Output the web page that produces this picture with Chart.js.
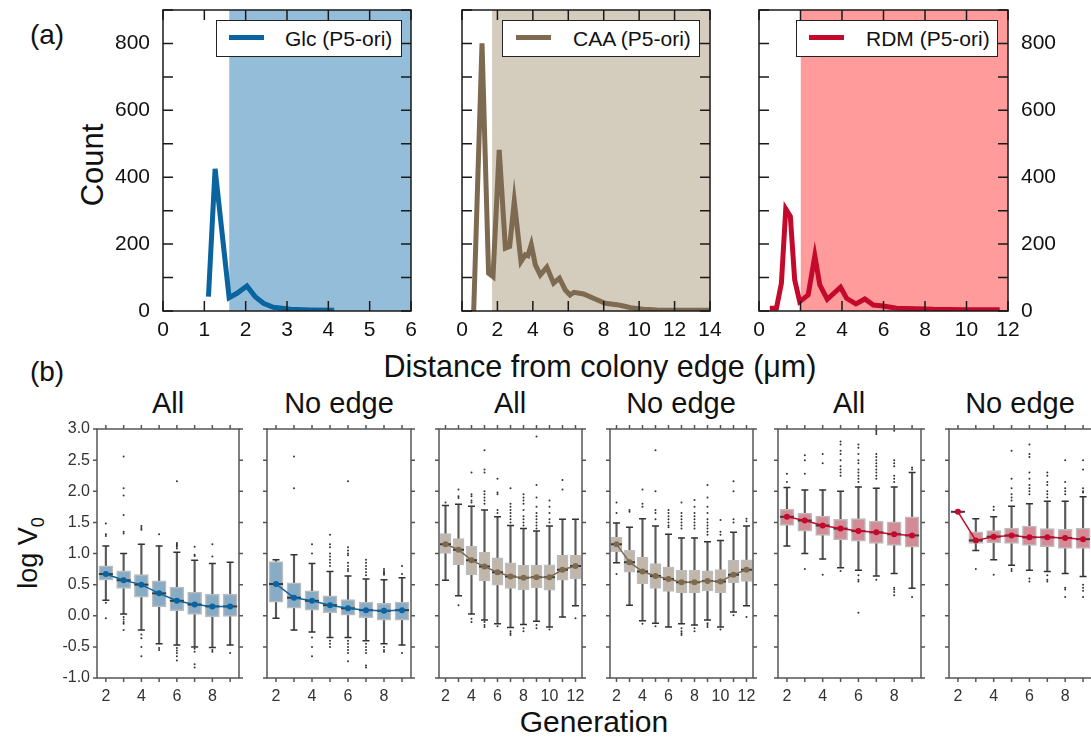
<!DOCTYPE html>
<html>
<head>
<meta charset="utf-8">
<script src="https://cdn.jsdelivr.net/npm/chart.js@4.4.0/dist/chart.umd.min.js"></script>
<style>
  body { margin: 0; background: #fff; width: 1091px; height: 742px; overflow: hidden; position: relative;
         font-family: "Liberation Sans", Arial, sans-serif; color: #111; }
  canvas { position: absolute; }
  .lbl { position: absolute; white-space: nowrap; line-height: 1; transform: translate(-50%, -50%); }
  .rot { transform: translate(-50%, -50%) rotate(-90deg); }
  .leg { position: absolute; top: 20px; height: 37px; background: #fff; border: 1.5px solid #222; box-sizing: border-box; }
  .leg span { position: absolute; top: 14px; width: 35px; height: 5px; }
  .leg b { position: absolute; top: 7px; font-weight: normal; font-size: 21px; line-height: 1; }
</style>
</head>
<body>

<div class="lbl" style="left:47px;top:35px;font-size:28px">(a)</div>
<div class="lbl rot" style="left:92px;top:165px;font-size:31px">Count</div>
<div class="lbl" style="left:600px;top:366px;font-size:30.5px">Distance from colony edge (μm)</div>
<div class="lbl" style="left:47px;top:372px;font-size:28px">(b)</div>
<div class="lbl rot" style="left:31px;top:553px;font-size:27px">log V<sub style="font-size:18px">0</sub></div>
<div class="lbl" style="left:594px;top:722px;font-size:30px">Generation</div>

<div class="lbl" style="left:168px;top:403px;font-size:29px">All</div>
<div class="lbl" style="left:339px;top:403px;font-size:29px">No edge</div>
<div class="lbl" style="left:510px;top:403px;font-size:29px">All</div>
<div class="lbl" style="left:681px;top:403px;font-size:29px">No edge</div>
<div class="lbl" style="left:849px;top:403px;font-size:29px">All</div>
<div class="lbl" style="left:1020px;top:403px;font-size:29px">No edge</div>

<canvas id="t1" width="320" height="345" style="left:100px;top:0"></canvas>
<canvas id="t2" width="290" height="345" style="left:440px;top:0"></canvas>
<canvas id="t3" width="350" height="345" style="left:740px;top:0"></canvas>

<div class="leg" style="left:216px;width:186px"><span style="left:12px;background:#0a64a0"></span><b style="left:68px">Glc (P5-ori)</b></div>
<div class="leg" style="left:502px;width:198px"><span style="left:13px;background:#7d6a50"></span><b style="left:70px">CAA (P5-ori)</b></div>
<div class="leg" style="left:796px;width:202px"><span style="left:12px;background:#c40a2c"></span><b style="left:69px">RDM (P5-ori)</b></div>

<canvas id="b1" width="209" height="295" style="left:40px;top:420px"></canvas>
<canvas id="b2" width="168" height="295" style="left:255px;top:420px"></canvas>
<canvas id="b3" width="167" height="295" style="left:427px;top:420px"></canvas>
<canvas id="b4" width="167" height="295" style="left:598px;top:420px"></canvas>
<canvas id="b5" width="167" height="295" style="left:766px;top:420px"></canvas>
<canvas id="b6" width="167" height="295" style="left:937px;top:420px"></canvas>

<script>
// (a) distance from colony edge, counts
const glcX = [1.10, 1.26, 1.60, 1.79, 2.03, 2.23, 2.43, 2.67, 3.08, 3.56, 4.14];
const glcY = [43, 425, 40, 53, 75, 43, 23, 11, 5, 3, 2];
const caaX = [0.66, 1.13, 1.50, 1.75, 2.10, 2.45, 2.69, 2.95, 3.33, 3.57, 3.72, 3.91, 4.14, 4.42, 4.79, 5.17, 5.50, 5.83, 6.10, 6.33, 6.86, 7.42, 8.08, 8.74, 9.12, 9.50, 10.24, 11.0, 12.5, 13.97];
const caaY = [0, 800, 113, 103, 482, 188, 193, 328, 148, 168, 165, 198, 138, 108, 131, 83, 98, 63, 48, 56, 51, 38, 23, 19, 15, 10, 5, 3, 2, 2];
const rdmX = [0.52, 0.84, 1.08, 1.29, 1.51, 1.72, 1.96, 2.37, 2.69, 2.93, 3.29, 3.93, 4.22, 4.67, 5.10, 5.51, 5.99, 6.63, 7.60, 8.40, 10.0, 11.6];
const rdmY = [8, 8, 83, 305, 283, 93, 28, 48, 165, 78, 35, 71, 38, 21, 36, 18, 15, 8, 7, 5, 4, 4];
const edgeCut = [1.6, 1.7, 2.0];   // start of shaded "no edge" region
const distMax = [6, 14, 12];
const distStep = [1, 2, 2];
const countTicks = [0, 200, 400, 600, 800];

// (b) log V0 per generation: [low whisker, q1, median, q3, high whisker]
const gensShort = ['2', '3', '4', '5', '6', '7', '8', '9'];
const gensLong = ['2', '3', '4', '5', '6', '7', '8', '9', '10', '11', '12'];

const glcAll = [[0.25, 0.57, 0.67, 0.80, 1.12], [0.03, 0.44, 0.57, 0.72, 1.00], [-0.23, 0.30, 0.50, 0.66, 1.15], [-0.45, 0.14, 0.36, 0.56, 1.12],
                [-0.47, 0.08, 0.24, 0.46, 1.02], [-0.50, 0.02, 0.18, 0.38, 0.89], [-0.51, -0.02, 0.15, 0.35, 0.84], [-0.47, -0.01, 0.15, 0.35, 0.86]];
const glcAllOut = [[1.48, 1.31, 1.28, 0.21, -0.04], [2.56, 2.05, 1.93, 1.62, 1.35, 1.32, -0.02, -0.06, -0.10, -0.13, -0.23],
                   [1.44, 1.41, 1.38, -0.30, -0.36, -0.50, -0.65], [1.31, -0.52, -0.55],
                   [2.16, 1.17, 1.15, 1.13, 1.11, 1.08, -0.52, -0.56, -0.60, -0.65, -0.72], [1.11, 0.98, 0.96, -0.53, -0.58, -0.78, -0.83],
                   [1.15, 0.95, -0.55, -0.58], [-0.60]];

const glcNoEdge = [[-0.04, 0.22, 0.51, 0.87, 0.90], [-0.23, 0.12, 0.29, 0.53, 0.98], [-0.26, 0.09, 0.24, 0.40, 0.84], [-0.35, 0.05, 0.17, 0.32, 0.71],
                   [-0.35, 0.01, 0.12, 0.26, 0.64], [-0.40, -0.03, 0.09, 0.22, 0.59], [-0.45, -0.07, 0.08, 0.20, 0.58], [-0.47, -0.07, 0.09, 0.22, 0.61]];
const glcNoEdgeOut = [[], [2.56, 2.05], [1.15, 1.00, -0.35, -0.50, -0.65], [1.30, 1.15, 1.10, 1.00, 0.95, 0.90, 0.85, 0.80, -0.40, -0.45, -0.50],
                      [2.16, 1.10, 1.05, 1.00, 0.97, 0.85, 0.80, 0.75, 0.72, -0.40, -0.45, -0.50, -0.55, -0.60, -0.73],
                      [0.90, 0.85, 0.80, 0.75, 0.70, 0.65, -0.45, -0.50, -0.55, -0.60, -0.80, -0.83],
                      [0.75, 0.72, 0.70, 0.68, 0.66, -0.50, -0.55, -0.58], [0.80, 0.67, -0.60]];

const caaAll = [[0.57, 1.00, 1.15, 1.32, 1.77], [0.32, 0.82, 1.06, 1.24, 1.79], [0.03, 0.66, 0.89, 1.12, 1.76], [-0.07, 0.56, 0.79, 1.02, 1.70],
                [-0.13, 0.49, 0.70, 0.93, 1.59], [-0.19, 0.44, 0.63, 0.85, 1.45], [-0.14, 0.42, 0.61, 0.81, 1.40], [-0.09, 0.45, 0.62, 0.81, 1.36],
                [-0.18, 0.41, 0.62, 0.82, 1.44], [-0.02, 0.57, 0.74, 0.97, 1.55], [0.16, 0.59, 0.80, 0.97, 1.55]];
const caaAllOut = [[1.82], [2.03, 1.92, 1.89, 0.17], [2.30, 1.95, 1.92, 1.85, 1.82, -0.05, -0.10],
                   [2.66, 2.35, 2.30, 2.00, 1.95, 1.90, 1.85, 1.80, -0.10, -0.15, -0.18], [2.20, 1.98, 1.95, 1.70, 1.65, -0.17],
                   [2.05, 1.80, 1.75, 1.70, 1.65, 1.60, 1.55, 1.50, -0.25, -0.28, -0.31],
                   [1.95, 1.90, 1.85, 1.80, 1.70, 1.60, 1.55, 1.50, 1.45, -0.20, -0.25],
                   [2.88, 2.10, 1.90, 1.75, 1.65, 1.60, 1.55, 1.50, 1.45, 1.40, -0.15, -0.20],
                   [1.85, 1.75, 1.65, 1.55, 1.50, -0.22], [2.18, 2.03], [-0.04]];

const caaNoEdge = [[0.85, 1.03, 1.15, 1.26, 1.49], [0.17, 0.70, 0.86, 1.05, 1.42], [-0.08, 0.51, 0.71, 0.94, 1.56], [-0.12, 0.44, 0.64, 0.84, 1.44],
                   [-0.18, 0.39, 0.59, 0.78, 1.31], [-0.13, 0.37, 0.54, 0.73, 1.25], [-0.15, 0.37, 0.54, 0.73, 1.25], [-0.07, 0.40, 0.56, 0.72, 1.19],
                   [-0.18, 0.37, 0.55, 0.74, 1.21], [0.06, 0.53, 0.66, 0.89, 1.34], [0.16, 0.55, 0.74, 0.90, 1.44]];
const caaNoEdgeOut = [[1.82, 1.65, 0.67], [1.70, 1.67], [2.03, 1.80, 1.75, -0.13], [2.66, 2.00, 1.70, 1.65, 1.55, -0.17],
                      [1.70, 1.65, 1.60, 1.55, 1.50, 1.45, 1.42], [1.82, 1.65, 1.60, 1.55, 1.50, 1.45, 1.40, -0.20, -0.25, -0.28, -0.31],
                      [1.86, 1.75, 1.65, 1.60, 1.55, 1.50, 1.45, 1.40, -0.20, -0.25],
                      [2.10, 1.90, 1.75, 1.65, 1.55, 1.50, 1.45, 1.40, 1.35, 1.30, -0.12, -0.15, -0.18],
                      [1.54, 1.35, 1.30, -0.22], [2.16, 2.00, 1.55, 1.50, 0.01], [1.56, 1.52, -0.02]];

const rdmAll = [[1.12, 1.45, 1.59, 1.71, 2.06], [1.00, 1.36, 1.53, 1.65, 2.02], [0.91, 1.29, 1.45, 1.60, 2.02], [0.77, 1.22, 1.40, 1.55, 2.00],
                [0.73, 1.20, 1.36, 1.56, 2.07], [0.64, 1.16, 1.34, 1.52, 2.05], [0.68, 1.13, 1.31, 1.51, 2.07], [0.44, 1.10, 1.29, 1.59, 2.30]];
const rdmAllOut = [[2.28, 2.15], [2.58, 2.50, 2.28, 0.75], [2.60, 2.45, 0.66], [2.80, 2.75, 2.65, 2.60, 2.50, 2.40, 2.35, 2.30, 2.25, 0.72],
                   [2.75, 2.70, 2.60, 2.50, 2.45, 2.35, 2.30, 2.25, 2.20, 2.15, 0.65, 0.58, 0.55, 0.05],
                   [2.98, 2.95, 2.92, 2.60, 2.55, 2.50, 2.45, 2.40, 2.35, 2.30, 2.25, 2.20, 0.58],
                   [2.97, 2.50, 2.45, 2.40, 2.25, 2.20, 2.15, 0.45, 0.42, 0.38, 0.33], [2.38, 2.35, 0.30]];

const rdmNoEdge = [[1.67, 1.67, 1.67, 1.67, 1.67], [1.05, 1.16, 1.21, 1.35, 1.56], [0.90, 1.17, 1.27, 1.37, 1.59], [0.81, 1.16, 1.29, 1.41, 1.76],
                   [0.73, 1.13, 1.26, 1.44, 1.80], [0.71, 1.11, 1.26, 1.40, 1.84], [0.68, 1.08, 1.25, 1.39, 1.84], [0.63, 1.08, 1.23, 1.41, 1.91]];
const rdmNoEdgeOut = [[], [0.75], [1.75, 1.70, 0.66], [2.65, 2.20, 2.05, 1.95, 1.90, 1.85, 0.75, 0.72],
                      [2.75, 2.60, 2.55, 2.30, 2.20, 2.10, 2.05, 2.00, 1.95, 0.60, 0.55],
                      [2.30, 2.25, 2.15, 2.10, 2.00, 1.95, 1.90, 0.65, 0.58, 0.55],
                      [3.00, 2.50, 2.15, 2.05, 2.00, 1.95, 0.45, 0.42, 0.30],
                      [2.50, 2.35, 2.05, 2.00, 1.98, 0.50, 0.45, 0.40, 0.30]];

Chart.defaults.font.family = '"Liberation Sans", Arial, sans-serif';
Chart.defaults.color = '#222';
Chart.defaults.animation = false;

// frame around the plot area + tick marks on all four sides
const frameTicks = {
  id: 'frameTicks',
  afterDatasetsDraw(chart, args, o) {
    const { ctx, chartArea: a } = chart;
    const xs = chart.scales.x, ys = chart.scales.y;
    const d = o.inward ? 1 : -1;
    ctx.save();
    ctx.strokeStyle = o.color;
    ctx.lineWidth = o.width;
    ctx.beginPath();
    xs.ticks.forEach((t, i) => {
      const px = xs.getPixelForTick(i);
      ctx.moveTo(px, a.top); ctx.lineTo(px, a.top + d * o.len);
      ctx.moveTo(px, a.bottom); ctx.lineTo(px, a.bottom - d * o.len);
    });
    for (let v = ys.min; v <= ys.max + 1e-9; v += o.yStep) {
      const py = ys.getPixelForValue(v);
      ctx.moveTo(a.left, py); ctx.lineTo(a.left + d * o.len, py);
      ctx.moveTo(a.right, py); ctx.lineTo(a.right - d * o.len, py);
    }
    ctx.stroke();
    ctx.strokeRect(a.left, a.top, a.right - a.left, a.bottom - a.top);
    ctx.restore();
  }
};
Chart.register(frameTicks);

const noGrid = { display: false, drawTicks: false, tickLength: 0 };

// fix axis sizes so the plot areas land where the reference has them
function fixY(show, w) {
  return s => { s.paddingTop = 0; s.paddingBottom = 0; if (show) s.width = w; };
}
function fixX(h) {
  return s => { s.paddingLeft = 0; s.paddingRight = 0; s.height = h; };
}

function distPanel(id, xs, ys, k, lineColor, fillColor, yPos, pad) {
  new Chart(document.getElementById(id), {
    type: 'line',
    data: {
      datasets: [
        { data: xs.map((x, i) => ({ x: x, y: ys[i] })), borderColor: lineColor, borderWidth: 5, pointRadius: 0, tension: 0 },
        { data: [{ x: edgeCut[k], y: 900 }, { x: distMax[k], y: 900 }], fill: 'origin', backgroundColor: fillColor, borderWidth: 0, pointRadius: 0 }
      ]
    },
    options: {
      responsive: false,
      layout: { padding: pad },
      plugins: { legend: { display: false }, tooltip: { enabled: false },
                 frameTicks: { inward: true, len: 10, yStep: 100, color: '#1a1a1a', width: 1.5 } },
      scales: {
        x: { type: 'linear', min: 0, max: distMax[k],
             ticks: { stepSize: distStep[k], font: { size: 21 }, padding: 7, maxRotation: 0, autoSkip: false, color: '#111' },
             grid: noGrid, border: { display: false },
             afterFit: fixX(34) },
        y: { min: 0, max: 900, display: yPos !== 'none', position: yPos === 'right' ? 'right' : 'left',
             ticks: { stepSize: 200, includeBounds: false, font: { size: 21 }, padding: 13, color: '#111',
                      callback: v => countTicks.includes(v) ? v : '' },
             grid: noGrid, border: { display: false },
             afterFit: fixY(yPos !== 'none', yPos === 'right' ? 60 : 63) }
      }
    }
  });
}

distPanel('t1', glcX, glcY, 0, '#0a64a0', '#94bdd9', 'left', { left: 0, right: 9, top: 10, bottom: 0 });
distPanel('t2', caaX, caaY, 1, '#7d6a50', '#d4ccbc', 'none', { left: 22, right: 20, top: 10, bottom: 0 });
distPanel('t3', rdmX, rdmY, 2, '#c40a2c', '#ff9b9b', 'right', { left: 19, right: 22, top: 10, bottom: 0 });

function boxPanel(id, gens, rows, outs, color, boxFill, showY) {
  const boxW = gens.length > 8 ? 11 : 14;
  const med = rows.map(r => r[2]);
  const outPts = [];
  outs.forEach((list, i) => list.forEach(v => outPts.push({ x: gens[i], y: v })));
  new Chart(document.getElementById(id), {
    type: 'bar',
    data: {
      labels: gens,
      datasets: [
        { type: 'line', data: med, borderColor: color, borderWidth: 1.5, pointRadius: 3,
          pointBackgroundColor: color, pointBorderWidth: 0, tension: 0 },
        { type: 'line', data: med, showLine: false, pointStyle: 'line', pointRadius: boxW / 2,
          pointBorderColor: '#3a3a3a', pointBorderWidth: 2 },
        { type: 'line', data: outPts, showLine: false, pointRadius: 1, pointBackgroundColor: '#333', pointBorderWidth: 0 },
        { data: rows.map(r => [r[1], r[3]]), backgroundColor: boxFill, borderColor: '#bcbcbc', borderWidth: 1.5,
          borderSkipped: false, barThickness: boxW, grouped: false },
        { type: 'line', data: rows.map(r => r[4]), showLine: false, pointStyle: 'line', pointRadius: 3.5,
          pointBorderColor: '#333', pointBorderWidth: 1.5 },
        { type: 'line', data: rows.map(r => r[0]), showLine: false, pointStyle: 'line', pointRadius: 3.5,
          pointBorderColor: '#333', pointBorderWidth: 1.5 },
        { data: rows.map(r => [r[0], r[4]]), backgroundColor: '#5a5a5a', barThickness: 1.5, grouped: false }
      ]
    },
    options: {
      responsive: false,
      layout: { padding: showY ? { left: 0, right: 10, top: 9, bottom: 0 } : { left: 12, right: 12, top: 9, bottom: 0 } },
      plugins: { legend: { display: false }, tooltip: { enabled: false },
                 frameTicks: { inward: false, len: 4, yStep: 0.5, color: '#555', width: 1.5 } },
      scales: {
        x: { offset: true,
             ticks: { font: { size: 16 }, padding: 9, maxRotation: 0, autoSkip: false, color: '#333',
                      callback: function (v) { const l = this.getLabelForValue(v); return (+l % 2 === 0) ? l : ''; } },
             grid: Object.assign({ offset: false }, noGrid), border: { display: false },
             afterFit: fixX(37) },
        y: { min: -1, max: 3, display: showY,
             ticks: { stepSize: 0.5, font: { size: 16 }, padding: 7, color: '#333', callback: v => v.toFixed(1) },
             grid: noGrid, border: { display: false },
             afterFit: fixY(showY, 57) }
      }
    }
  });
}

boxPanel('b1', gensShort, glcAll, glcAllOut, '#0a64a0', '#88abc6', true);
boxPanel('b2', gensShort, glcNoEdge, glcNoEdgeOut, '#0a64a0', '#88abc6', false);
boxPanel('b3', gensLong, caaAll, caaAllOut, '#7d6a50', '#c0b6a9', false);
boxPanel('b4', gensLong, caaNoEdge, caaNoEdgeOut, '#7d6a50', '#c0b6a9', false);
boxPanel('b5', gensShort, rdmAll, rdmAllOut, '#c40a2c', '#d48b96', false);
boxPanel('b6', gensShort, rdmNoEdge, rdmNoEdgeOut, '#c40a2c', '#d48b96', false);
</script>
</body>
</html>
